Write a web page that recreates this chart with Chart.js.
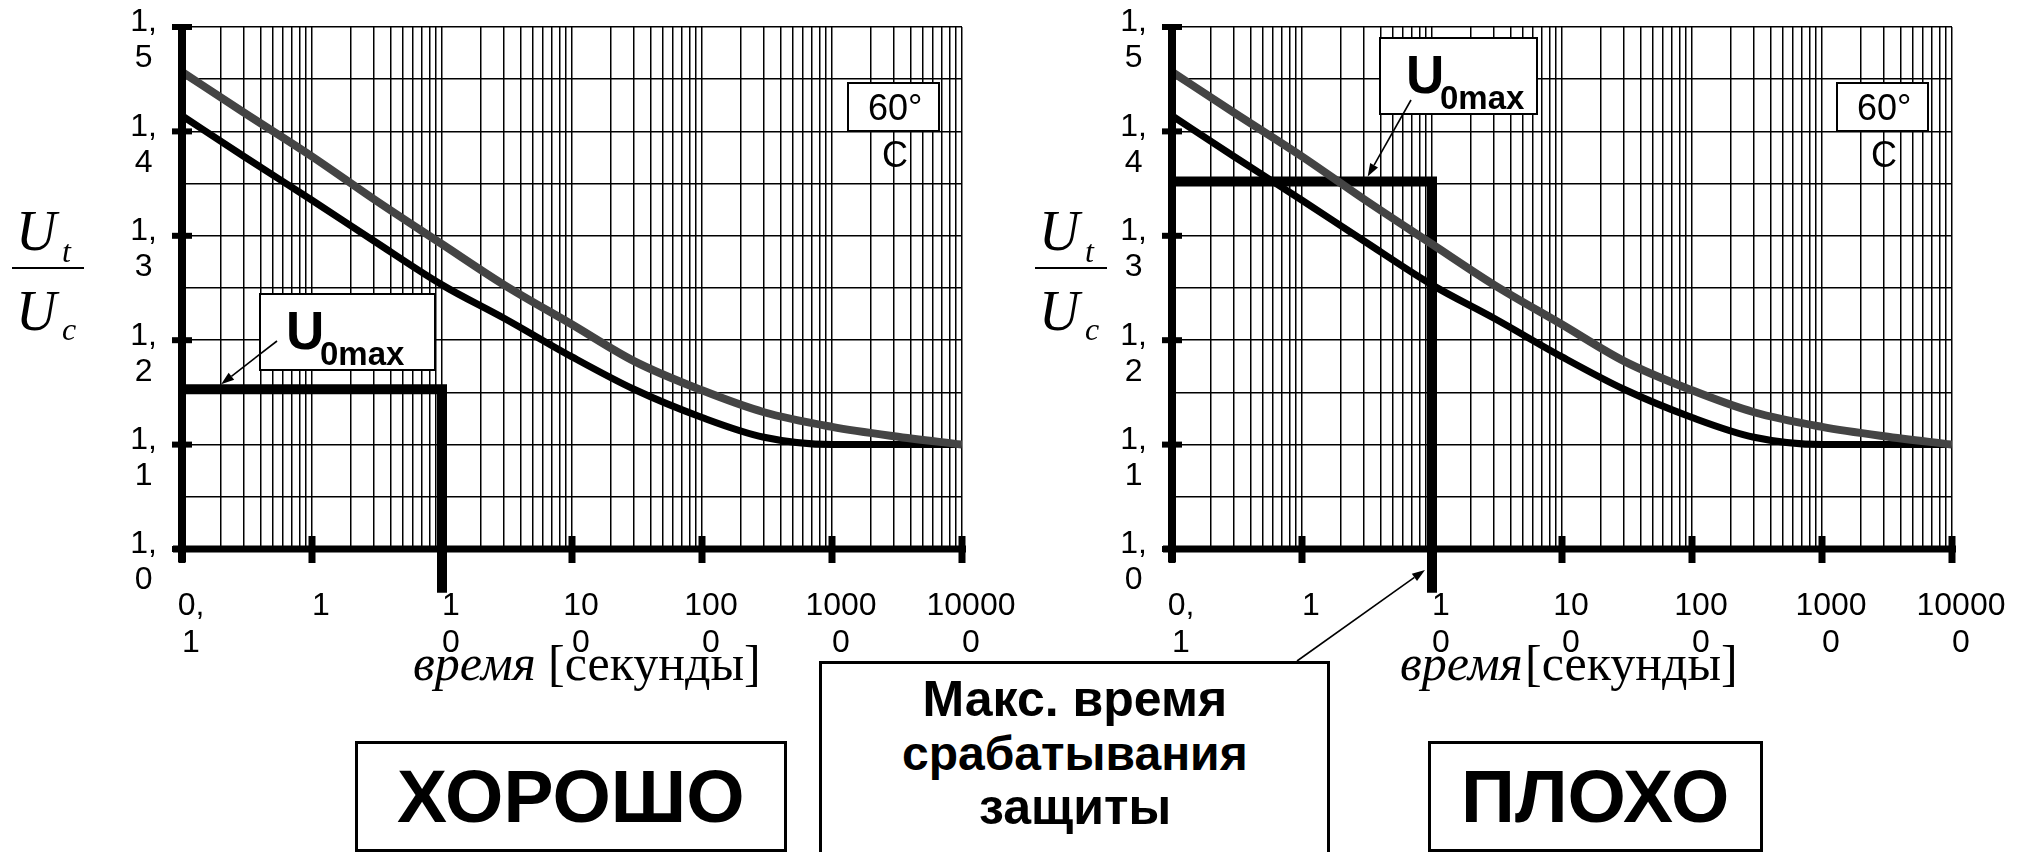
<!DOCTYPE html>
<html>
<head>
<meta charset="utf-8">
<script src="https://cdn.jsdelivr.net/npm/chart.js@4.4.1/dist/chart.umd.min.js"></script>
<style>
  html, body { margin: 0; padding: 0; background: #fff; }
  #page { position: relative; width: 2017px; height: 852px; overflow: hidden; background: #fff; }
  canvas { position: absolute; top: 0; }
  .box { position: absolute; background: #fff; border: 2px solid #000; box-sizing: border-box; }
  .txt { position: absolute; white-space: nowrap; line-height: 1; color: #000; }
  .mark { display: inline-block; width: 0; height: 0; }
  .bar { position: absolute; background: #000; }
  svg { position: absolute; left: 0; top: 0; }
</style>
</head>
<body>
<div id="page">
  <canvas id="chartGood" width="1040" height="720" style="left:0"></canvas>
  <canvas id="chartBad" width="1017" height="720" style="left:1000px"></canvas>
</div>
<script>
// -------------------------------
// values
// -------------------------------
const xMajor = [0.1, 1, 10, 100, 1000, 10000, 100000];
const xTickLabels = [['0,', '1'], ['1'], ['1', '0'], ['10', '0'], ['100', '0'], ['1000', '0'], ['10000', '0']];
const yMajor = [1.0, 1.1, 1.2, 1.3, 1.4, 1.5];
const yTickLabels = [['1,', '0'], ['1,', '1'], ['1,', '2'], ['1,', '3'], ['1,', '4'], ['1,', '5']];

// time, s / Ut/Uc
const tCurve = [0.1, 0.3, 1, 3, 10, 30, 100, 300, 1000, 3000, 10000, 30000, 100000];
const uGray  = [1.457, 1.418, 1.376, 1.335, 1.292, 1.253, 1.215, 1.180, 1.152, 1.131, 1.117, 1.108, 1.100];
const uBlack = [1.415, 1.376, 1.334, 1.295, 1.253, 1.221, 1.184, 1.153, 1.126, 1.107, 1.100, 1.100, 1.100];

// U0max level + max trip time (line runs on below the axis)
const tLimit = [0.1, 10, 10];
const uLimitGood = [1.153, 1.153, 0.958];
const uLimitBad  = [1.352, 1.352, 0.958];

// log grid: 1..9 in every decade
const xGrid = [];
for (let i = 0; i < xMajor.length - 1; i++) {
  for (let k = 1; k <= 9; k++) xGrid.push(+(k * xMajor[i]).toPrecision(6));
}
xGrid.push(xMajor[xMajor.length - 1]);

const page = document.getElementById('page');
const SANS = "'Liberation Sans', Arial, sans-serif";
const SERIF = "'Liberation Serif', 'Times New Roman', serif";

// -------------------------------
// thick axes + tick bars
// -------------------------------
const axesPlugin = {
  id: 'thickAxes',
  afterDatasetsDraw(chart) {
    const { ctx, chartArea: a, scales: { x, y } } = chart;
    const x0 = x.getPixelForValue(xMajor[0]);
    const y0 = y.getPixelForValue(yMajor[0]);
    ctx.save();
    ctx.fillStyle = '#000';
    ctx.fillRect(x0 - 4, a.top - 3, 8, y0 + 13 - (a.top - 3));
    ctx.fillRect(x0 - 9, y0 - 3.5, a.right + 4 - (x0 - 9), 7);
    yMajor.forEach(v => {
      const py = y.getPixelForValue(v);
      ctx.fillRect(x0 - 10, py - 3, 20, 6);
    });
    xMajor.forEach(v => {
      const px = x.getPixelForValue(v);
      ctx.fillRect(px - 3.5, y0 - 13, 7, 27);
    });
    ctx.restore();
  }
};

function labelFor(list, labels, v) {
  const i = list.findIndex(m => Math.abs(m - v) / m < 1e-6);
  return i >= 0 ? labels[i] : '';
}

function makeChart(id, uLimit, axisW, padR) {
  return new Chart(document.getElementById(id), {
    type: 'line',
    data: {
      datasets: [
        {
          data: tCurve.map((t, i) => ({ x: t, y: uGray[i] })),
          borderColor: '#444444', borderWidth: 8, pointRadius: 0,
          cubicInterpolationMode: 'monotone'
        },
        {
          data: tCurve.map((t, i) => ({ x: t, y: uBlack[i] })),
          borderColor: '#000000', borderWidth: 7, pointRadius: 0,
          cubicInterpolationMode: 'monotone'
        },
        {
          data: tLimit.map((t, i) => ({ x: t, y: uLimit[i] })),
          borderColor: '#000000', borderWidth: 10, pointRadius: 0, tension: 0,
          borderJoinStyle: 'miter', borderCapStyle: 'butt', clip: false
        }
      ]
    },
    options: {
      responsive: false,
      animation: false,
      events: [],
      layout: { padding: { left: 0, top: 27, right: padR, bottom: 0 }, autoPadding: false },
      plugins: { legend: { display: false }, tooltip: { enabled: false } },
      scales: {
        x: {
          type: 'logarithmic', min: 0.1, max: 100000,
          afterBuildTicks: s => { s.ticks = xGrid.map(v => ({ value: v, major: xMajor.includes(v) })); },
          afterFit: s => { s.height = 171; s.paddingLeft = 0; s.paddingRight = 0; },
          grid: { color: '#000', lineWidth: 1.5, drawTicks: false },
          border: { display: false },
          ticks: {
            autoSkip: false, maxRotation: 0, minRotation: 0,
            padding: 38, labelOffset: 9, color: '#000',
            font: { family: SANS, size: 32, lineHeight: 1.18 },
            callback: v => labelFor(xMajor, xTickLabels, v)
          }
        },
        y: {
          type: 'linear', min: 1.0, max: 1.5,
          afterFit: s => { s.width = axisW; s.paddingTop = 0; s.paddingBottom = 0; },
          grid: { color: '#000', lineWidth: 1.5, drawTicks: false },
          border: { display: false },
          ticks: {
            stepSize: 0.05, autoSkip: false, crossAlign: 'center',
            padding: 25, labelOffset: 13.5, color: '#000',
            font: { family: SANS, size: 32, lineHeight: 1.125 },
            callback: v => labelFor(yMajor, yTickLabels, v)
          }
        }
      }
    },
    plugins: [axesPlugin]
  });
}

const chartGood = makeChart('chartGood', uLimitGood, 182, 78);
const chartBad = makeChart('chartBad', uLimitBad, 172, 65);

// -------------------------------
// html annotations
// -------------------------------
function putText(txt, x, base, font, align) {
  const d = document.createElement('div');
  d.className = 'txt';
  d.style.font = font;
  d.textContent = txt;
  const m = document.createElement('span');
  m.className = 'mark';
  d.appendChild(m);
  page.appendChild(d);
  const w = d.offsetWidth;
  d.style.left = (align === 'center' ? x - w / 2 : x) + 'px';
  d.style.top = (base - m.offsetTop) + 'px';
  return d;
}
function putBox(x, y, w, h, bw) {
  const b = document.createElement('div');
  b.className = 'box';
  b.style.cssText = `left:${x}px;top:${y}px;width:${w}px;height:${h}px;border-width:${bw || 2}px`;
  page.appendChild(b);
}
function putBar(x, y, w, h) {
  const b = document.createElement('div');
  b.className = 'bar';
  b.style.cssText = `left:${x}px;top:${y}px;width:${w}px;height:${h}px`;
  page.appendChild(b);
}

// Ut / Uc fraction
function fraction(x) {
  putText('U', x + 4, 250, `italic 56px ${SERIF}`);
  putText('t', x + 50, 262, `italic 32px ${SERIF}`);
  putBar(x, 267, 72, 2);
  putText('U', x + 4, 330, `italic 56px ${SERIF}`);
  putText('c', x + 50, 340, `italic 32px ${SERIF}`);
}
fraction(12);
fraction(1035);

// x axis titles
const tg = putText('время', 413, 680, `italic 50px ${SERIF}`);
putText('[секунды]', 413 + tg.offsetWidth + 12, 680, `50px ${SERIF}`);
const tb = putText('время', 1400, 680, `italic 50px ${SERIF}`);
putText('[секунды]', 1400 + tb.offsetWidth + 2, 680, `50px ${SERIF}`);

// 60°C labels
function tempLabel(bx, cx) {
  putBox(bx, 82, 93, 50, 2);
  putText('60°', cx, 120, `36px ${SANS}`, 'center');
  putText('C', cx, 167, `36px ${SANS}`, 'center');
}
tempLabel(847, 895);
tempLabel(1836, 1884);

// U0max labels
function u0Label(bx, by, bw) {
  putBox(bx, by, bw, 78, 2);
  putText('U', bx + 27, by + 56, `bold 53px ${SANS}`);
  putText('0max', bx + 61, by + 72, `bold 33px ${SANS}`);
}
u0Label(259, 293, 177);
u0Label(1379, 37, 159);

// bottom boxes
putBox(355, 741, 432, 111, 3);
putText('ХОРОШО', 571, 822, `bold 75px ${SANS}`, 'center');
putBox(1428, 741, 335, 111, 3);
putText('ПЛОХО', 1595, 822, `bold 75px ${SANS}`, 'center');
putBox(819, 661, 511, 220, 3);
putText('Макс. время', 1075, 716, `bold 50px ${SANS}`, 'center');
putText('срабатывания', 1075, 770, `bold 48px ${SANS}`, 'center');
putText('защиты', 1075, 824, `bold 50px ${SANS}`, 'center');

// -------------------------------
// callout arrows (tips taken from the chart scales)
// -------------------------------
function pagePoint(chart, offsetX, t, u) {
  return { x: offsetX + chart.scales.x.getPixelForValue(t), y: chart.scales.y.getPixelForValue(u) };
}
const NS = 'http://www.w3.org/2000/svg';
const svg = document.createElementNS(NS, 'svg');
svg.setAttribute('width', 2017);
svg.setAttribute('height', 852);
page.appendChild(svg);

function arrow(x1, y1, x2, y2) {
  const a = Math.atan2(y2 - y1, x2 - x1);
  const len = 13, half = 4.5;
  const bx = x2 - len * Math.cos(a), by = y2 - len * Math.sin(a);
  const ln = document.createElementNS(NS, 'line');
  ln.setAttribute('x1', x1); ln.setAttribute('y1', y1);
  ln.setAttribute('x2', bx); ln.setAttribute('y2', by);
  ln.setAttribute('stroke', '#000'); ln.setAttribute('stroke-width', 1.6);
  svg.appendChild(ln);
  const p = document.createElementNS(NS, 'polygon');
  const pts = [
    [x2, y2],
    [bx + half * Math.sin(a), by - half * Math.cos(a)],
    [bx - half * Math.sin(a), by + half * Math.cos(a)]
  ];
  p.setAttribute('points', pts.map(q => q.join(',')).join(' '));
  p.setAttribute('fill', '#000');
  svg.appendChild(p);
}

const tipGood = pagePoint(chartGood, 0, 0.2, uLimitGood[0]);
arrow(277, 341, tipGood.x, tipGood.y - 5);
const tipBad = pagePoint(chartBad, 1000, 3.2, uLimitBad[0]);
arrow(1411, 100, tipBad.x, tipBad.y - 5);
const tipTrip = pagePoint(chartBad, 1000, tLimit[1], 0.98);
arrow(1297, 661, tipTrip.x - 7, tipTrip.y);
</script>
</body>
</html>
